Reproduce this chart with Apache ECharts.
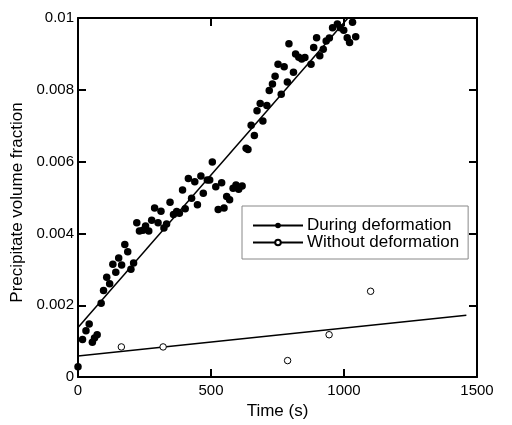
<!DOCTYPE html>
<html>
<head>
<meta charset="utf-8">
<script src="https://cdn.jsdelivr.net/npm/echarts@6/dist/echarts.min.js"></script>
<style>html,body{margin:0;padding:0;background:#fff;}#c{width:512px;height:425px;}</style>
</head>
<body>
<div id="c"></div>
<script>
// Time (s) and precipitate volume fraction, during deformation
var duringTime = [0,17,30,42,54,62,72,87,96,108,119,131,142,153,164,176,187,199,209,221,231,244,254,266,277,288,301,312,323,333,346,359,371,381,393,403,415,427,439,449,462,471,486,495,505,518,527,540,549,559,570,583,594,604,617,632,639,651,663,673,685,695,710,719,731,741,752,764,775,787,793,810,818,830,841,853,876,886,897,909,922,933,945,957,975,986,999,1012,1021,1032,1044];
var duringFrac = [0.00029,0.00105,0.00129,0.00148,0.00097,0.00109,0.00118,0.00206,0.00241,0.00278,0.0026,0.00314,0.00292,0.00332,0.00312,0.00369,0.00349,0.003,0.00318,0.0043,0.00407,0.00409,0.00421,0.00407,0.00437,0.00471,0.0043,0.00462,0.00415,0.00426,0.00487,0.00453,0.00461,0.00456,0.00521,0.00469,0.00553,0.00498,0.00544,0.0048,0.0056,0.00512,0.00549,0.00549,0.00599,0.0053,0.00467,0.00541,0.00471,0.00503,0.00494,0.00526,0.00535,0.00523,0.00532,0.00637,0.00634,0.00701,0.00673,0.00742,0.00762,0.00713,0.00756,0.00798,0.00816,0.00838,0.00871,0.00788,0.00864,0.00822,0.00928,0.00849,0.009,0.00891,0.00886,0.0089,0.00871,0.00918,0.00945,0.00895,0.00913,0.00936,0.00944,0.00973,0.00983,0.00973,0.00966,0.00945,0.00932,0.00988,0.00948];
// without deformation
var withoutTime = [163,320,788,944,1100];
var withoutFrac = [0.00084,0.00084,0.00046,0.00118,0.00239];
// linear fits (end points)
var duringFitTime = [0,1015];
var duringFitFrac = [0.00138,0.01];
var withoutFitTime = [0,1460];
var withoutFitFrac = [0.00059,0.00172];
var xTicks = [0,500,1000,1500];
var yTicks = [0,0.002,0.004,0.006,0.008,0.01];

function pairs(a,b){return a.map(function(v,i){return [v,b[i]];});}
var FONT = 'Liberation Sans, Arial, sans-serif';
var chart = echarts.init(document.getElementById('c'), null, {renderer:'canvas'});
var axisLine = {show:true, onZero:false, lineStyle:{color:'#000', width:2}};
var axisTick = {show:true, inside:true, length:8, lineStyle:{color:'#000', width:2}};
chart.setOption({
  animation:false,
  backgroundColor:'#fff',
  grid:{left:78, right:35, top:18, bottom:41, containLabel:false},
  legend:{
    show:true, orient:'vertical', left:242, top:206,
    data:['During deformation','Without deformation'],
    backgroundColor:'#fff', borderColor:'#888', borderWidth:1,
    padding:[11,9,8,10], itemGap:0, itemWidth:50, itemHeight:7,
    textStyle:{fontFamily:FONT, fontSize:17, lineHeight:15, color:'#000', padding:[0,0,0,-1]}
  },
  xAxis:[{
    type:'value', min:xTicks[0], max:xTicks[xTicks.length-1], interval:500,
    name:'Time (s)', nameLocation:'middle', nameGap:11,
    nameTextStyle:{fontFamily:FONT, fontSize:17, color:'#000'},
    axisLine:axisLine, axisTick:axisTick,
    axisLabel:{fontFamily:FONT, fontSize:15, color:'#000', margin:6,
      formatter:function(v){return String(v);}},
    splitLine:{show:false}
  },{
    type:'value', position:'top', min:xTicks[0], max:xTicks[xTicks.length-1], interval:500,
    axisLine:axisLine, axisTick:axisTick, axisLabel:{show:false}, splitLine:{show:false}
  }],
  yAxis:[{
    type:'value', min:yTicks[0], max:yTicks[yTicks.length-1], interval:0.002,
    name:'Precipitate volume fraction', nameLocation:'middle', nameGap:51,
    nameTextStyle:{fontFamily:FONT, fontSize:17, color:'#000', padding:[0,10,0,0]},
    axisLine:axisLine, axisTick:axisTick,
    axisLabel:{fontFamily:FONT, fontSize:15, color:'#000', margin:4,
      formatter:function(v){return String(+v.toFixed(4));}},
    splitLine:{show:false}
  },{
    type:'value', position:'right', min:yTicks[0], max:yTicks[yTicks.length-1], interval:0.002,
    axisLine:axisLine, axisTick:axisTick, axisLabel:{show:false}, splitLine:{show:false}
  }],
  series:[
    {name:'During deformation', type:'line', data:pairs(duringFitTime,duringFitFrac),
     symbol:'circle', symbolSize:7, showSymbol:false, color:'#000',
     lineStyle:{color:'#000', width:1.5}, itemStyle:{color:'#000'}, z:3},
    {name:'Without deformation', type:'line', data:pairs(withoutFitTime,withoutFitFrac),
     symbol:'emptyCircle', symbolSize:7, showSymbol:false, color:'#000',
     lineStyle:{color:'#000', width:1.5}, itemStyle:{color:'#000', borderColor:'#000', borderWidth:1}, z:3},
    {name:'during pts', type:'scatter', data:pairs(duringTime,duringFrac),
     symbol:'circle', symbolSize:7.5, itemStyle:{color:'#000', opacity:1}, z:4},
    {name:'without pts', type:'scatter', data:pairs(withoutTime,withoutFrac),
     symbol:'circle', symbolSize:6.5, itemStyle:{color:'#fff', borderColor:'#000', borderWidth:1, opacity:1}, z:4}
  ]
});
</script>
</body>
</html>
